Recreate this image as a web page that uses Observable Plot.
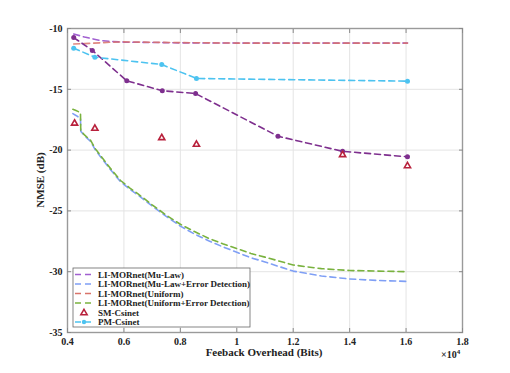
<!DOCTYPE html>
<html><head><meta charset="utf-8">
<script src="https://cdn.jsdelivr.net/npm/d3@7"></script>
<script src="https://cdn.jsdelivr.net/npm/@observablehq/plot@0.6"></script>
<style>body{margin:0;background:#fff}#chart{position:relative;width:510px;height:373px}</style>
</head><body><div id="chart"></div>
<script>
// ---- data (x in units of 10^4 bits, y in dB) ----
const xTicks = [0.4, 0.6, 0.8, 1, 1.2, 1.4, 1.6, 1.8];
const yTicks = [-35, -30, -25, -20, -15, -10];

const seriesNames = [
  "LI-MORnet(Mu-Law)",
  "LI-MORnet(Mu-Law+Error Detection)",
  "LI-MORnet(Uniform)",
  "LI-MORnet(Uniform+Error Detection)",
  "SM-Csinet",
  "PM-Csinet"
];

const muLawX = [0.422, 0.46, 0.517, 0.56, 0.6, 0.8, 1.0, 1.2, 1.4, 1.605];
const muLawY = [-10.45, -10.7, -10.99, -11.08, -11.12, -11.18, -11.2, -11.2, -11.2, -11.2];

const uniformX = [0.422, 0.46, 0.517, 0.56, 0.6, 0.8, 1.0, 1.2, 1.4, 1.605];
const uniformY = [-11.28, -11.24, -11.18, -11.12, -11.1, -11.16, -11.2, -11.2, -11.2, -11.2];

const edX = [0.419, 0.43, 0.44, 0.446, 0.447, 0.46, 0.482, 0.499, 0.517, 0.552, 0.588, 0.62, 0.65, 0.7, 0.75, 0.8, 0.85, 0.9, 0.95, 1.0, 1.05, 1.1, 1.2, 1.3, 1.4, 1.5, 1.605];
const muLawEdY = [-17.0, -17.15, -17.3, -17.35, -18.45, -18.8, -19.3, -20.0, -20.55, -21.6, -22.6, -23.2, -23.7, -24.6, -25.45, -26.25, -26.9, -27.45, -27.95, -28.4, -28.85, -29.2, -29.95, -30.35, -30.6, -30.72, -30.8];
const uniformEdY = [-16.65, -16.75, -16.85, -16.9, -18.4, -18.75, -19.2, -19.9, -20.45, -21.5, -22.5, -23.1, -23.6, -24.5, -25.35, -26.1, -26.7, -27.25, -27.7, -28.1, -28.5, -28.8, -29.45, -29.75, -29.9, -29.95, -30.0];

const smX = [0.425, 0.497, 0.734, 0.857, 1.375, 1.605];
const smY = [-17.8, -18.22, -18.99, -19.54, -20.39, -21.3];

const pmX = [0.422, 0.497, 0.734, 0.857, 1.605];
const pmY = [-11.62, -12.36, -12.96, -14.11, -14.33];

// extra purple dashed series with markers (not listed in the legend)
const extraX = [0.422, 0.488, 0.61, 0.736, 0.854, 1.146, 1.375, 1.605];
const extraY = [-10.75, -11.8, -14.3, -15.12, -15.35, -18.86, -20.1, -20.55];

const colors = ["#a15fd0", "#7f9ff5", "#d9736a", "#79b23e", "#b8213c", "#4dc3f0"];
const extraColor = "#7e2f8e";

// ---- build tables ----
const rows = (xs, ys) => xs.map((x, i) => ({x, y: ys[i]}));
const tMu = rows(muLawX, muLawY);
const tUn = rows(uniformX, uniformY);
const tMuEd = rows(edX, muLawEdY);
const tUnEd = rows(edX, uniformEdY);
const tSm = rows(smX, smY);
const tPm = rows(pmX, pmY);
const tEx = rows(extraX, extraY);

const dash = "6,4";
const fmt = d => String(d);
const tickGray = "#8a8a8a";

const plot = Plot.plot({
  width: 510,
  height: 373,
  marginLeft: 67,
  marginRight: 48,
  marginTop: 28,
  marginBottom: 41,
  style: {fontFamily: "'Liberation Serif', 'DejaVu Serif', serif", fontSize: "10px", fontWeight: "bold", background: "#fff", color: "#222"},
  x: {domain: [0.4, 1.8]},
  y: {domain: [-35, -10]},
  marks: [
    Plot.gridX(xTicks, {stroke: "#e4e4e4", strokeOpacity: 1}),
    Plot.gridY(yTicks, {stroke: "#e4e4e4", strokeOpacity: 1}),
    Plot.line(tMu, {x: "x", y: "y", stroke: colors[0], strokeWidth: 1.6, strokeDasharray: dash}),
    Plot.line(tMuEd, {x: "x", y: "y", stroke: colors[1], strokeWidth: 1.6, strokeDasharray: dash}),
    Plot.line(tUn, {x: "x", y: "y", stroke: colors[2], strokeWidth: 1.6, strokeDasharray: dash, strokeOpacity: 0.85}),
    Plot.line(tUnEd, {x: "x", y: "y", stroke: colors[3], strokeWidth: 1.6, strokeDasharray: dash}),
    Plot.line(tEx, {x: "x", y: "y", stroke: extraColor, strokeWidth: 1.6, strokeDasharray: dash}),
    Plot.dot(tEx, {x: "x", y: "y", fill: extraColor, r: 2.5}),
    Plot.line(tPm, {x: "x", y: "y", stroke: colors[5], strokeWidth: 1.6, strokeDasharray: dash}),
    Plot.dot(tPm, {x: "x", y: "y", fill: colors[5], r: 2.5}),
    Plot.dot(tSm, {x: "x", y: "y", symbol: "triangle", stroke: colors[4], strokeWidth: 1.6, fill: "#fff", r: 2.3}),
    Plot.frame({stroke: "#9a9a9a", strokeWidth: 1.4}),
    Plot.axisX(xTicks, {anchor: "bottom", tickSize: 0, tickPadding: 5, tickFormat: fmt, fontSize: 10, label: null}),
    Plot.axisX(xTicks, {anchor: "bottom", tickSize: -4, tickFormat: () => "", stroke: tickGray, label: null}),
    Plot.axisX(xTicks, {anchor: "top", tickSize: -4, tickFormat: () => "", stroke: tickGray, label: null}),
    Plot.axisY(yTicks, {anchor: "left", tickSize: 0, tickPadding: 5, tickFormat: fmt, fontSize: 10, label: null}),
    Plot.axisY(yTicks, {anchor: "left", tickSize: -4, tickFormat: () => "", stroke: tickGray, label: null}),
    Plot.axisY(yTicks, {anchor: "right", tickSize: -4, tickFormat: () => "", stroke: tickGray, label: null})
  ]
});
document.getElementById("chart").appendChild(plot);

// ---- labels, legend ----
const svg = d3.select(plot);
const ff = "'Liberation Serif', 'DejaVu Serif', serif";
svg.append("text").attr("x", 264).attr("y", 356).attr("text-anchor", "middle")
  .attr("font-family", ff).attr("font-weight", "bold").attr("font-size", 11).attr("fill", "#222")
  .text("Feeback Overhead (Bits)");
svg.append("text").attr("transform", "translate(44,180) rotate(-90)").attr("text-anchor", "middle")
  .attr("font-family", ff).attr("font-weight", "bold").attr("font-size", 11).attr("fill", "#222")
  .text("NMSE (dB)");
const mult = svg.append("text").attr("x", 441).attr("y", 358).attr("text-anchor", "start")
  .attr("font-family", ff).attr("font-weight", "bold").attr("font-size", 10).attr("fill", "#222");
mult.append("tspan").text("\u00d710");
mult.append("tspan").attr("dy", -4).attr("font-size", 7).text("4");

const lg = svg.append("g");
lg.append("rect").attr("x", 73).attr("y", 268).attr("width", 177).attr("height", 59)
  .attr("fill", "#fff").attr("stroke", "#666").attr("stroke-width", 0.8);
const kinds = ["line", "line", "line", "line", "tri", "linedot"];
seriesNames.forEach((name, i) => {
  const cy = 274.5 + i * 9.5;
  const c = colors[i];
  if (kinds[i] === "tri") {
    lg.append("path").attr("d", d3.symbol(d3.symbolTriangle, 18)())
      .attr("transform", `translate(84,${cy + 0.5})`).attr("fill", "#fff").attr("stroke", c).attr("stroke-width", 1.5);
  } else {
    lg.append("line").attr("x1", 75).attr("x2", 92).attr("y1", cy).attr("y2", cy)
      .attr("stroke", c).attr("stroke-width", 1.6).attr("stroke-dasharray", dash);
    if (kinds[i] === "linedot") lg.append("circle").attr("cx", 84).attr("cy", cy).attr("r", 2.2).attr("fill", c);
  }
  lg.append("text").attr("x", 98).attr("y", cy).attr("dy", "0.35em").attr("text-anchor", "start")
    .attr("font-family", ff).attr("font-weight", "bold").attr("font-size", 9).attr("fill", "#222")
    .text(name);
});
</script>
</body></html>
